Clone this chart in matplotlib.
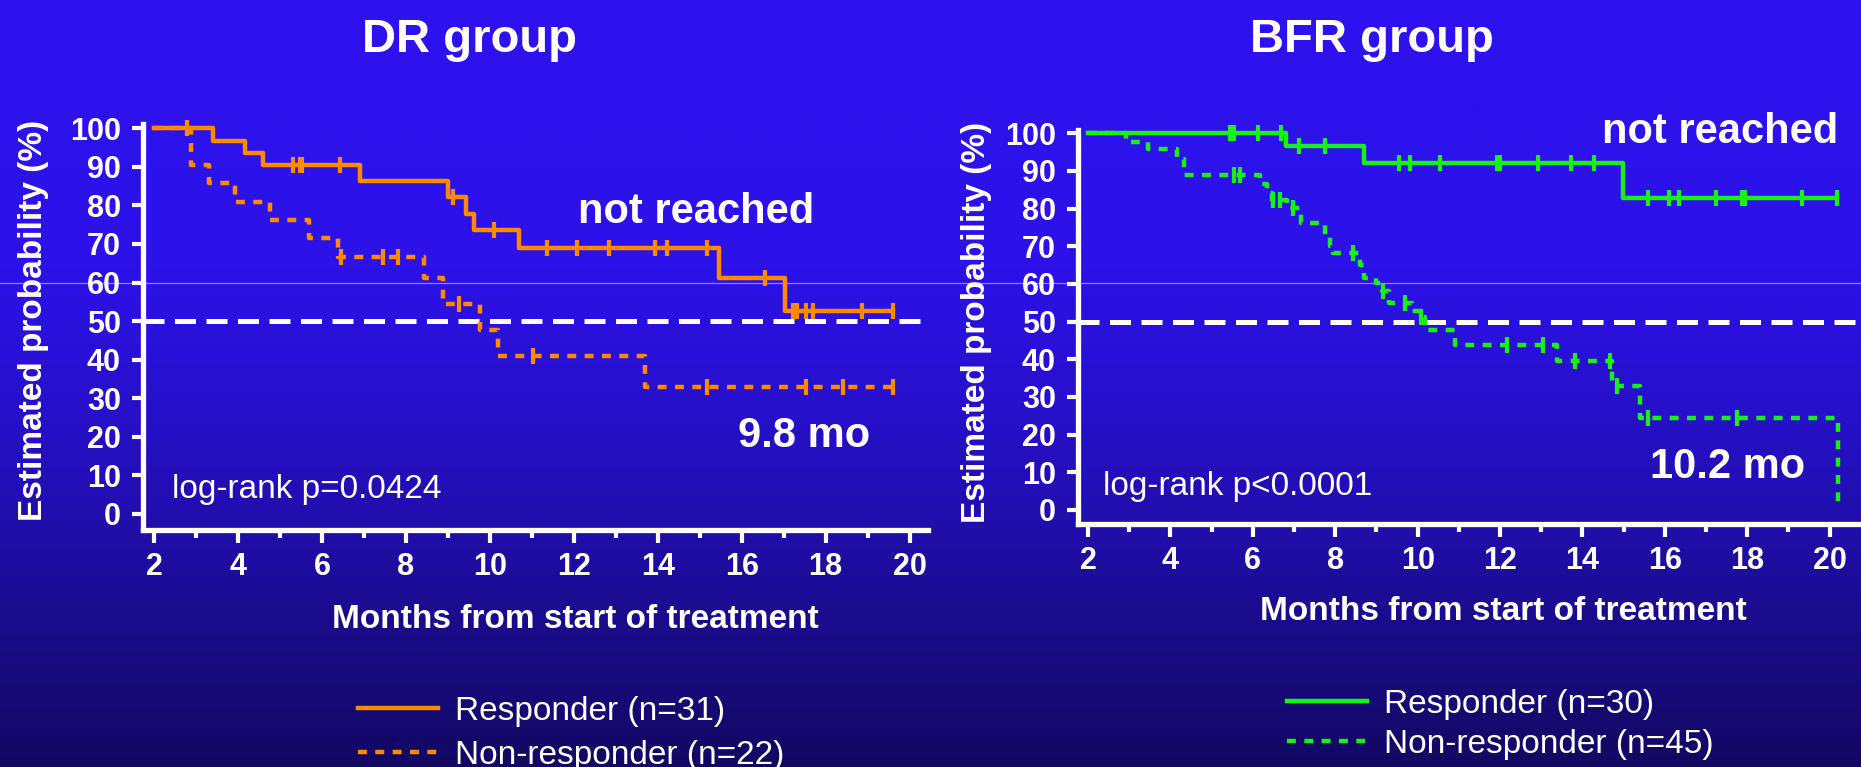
import numpy as np
import matplotlib
matplotlib.use('Agg')
import matplotlib.pyplot as plt
from matplotlib.lines import Line2D

plt.rcParams['font.family'] = ['Liberation Sans', 'DejaVu Sans']

# ---- data (months, % surviving) ----
months_ticks = list(range(2, 21, 2))
pct_ticks = list(range(0, 101, 10))

dr_resp_t = [2.0, 3.40, 4.17, 4.60, 6.91, 9.01, 9.43, 9.63, 10.70, 15.47, 17.03, 19.6]
dr_resp_s = [100, 96.8, 93.6, 90.4, 86.4, 82.1, 77.8, 73.6, 68.9, 61.1, 52.5, 52.5]
dr_resp_cens = [2.78, 5.30, 5.48, 5.52, 6.43, 9.13, 10.11, 11.36, 12.07, 12.85, 13.94,
                14.22, 15.17, 16.56, 17.23, 17.33, 17.53, 17.69, 18.86, 19.6]

dr_non_t = [2.0, 2.88, 3.32, 3.94, 4.76, 5.69, 6.39, 8.43, 8.89, 9.77, 10.2, 13.7, 19.6]
dr_non_s = [100, 90.5, 85.9, 80.8, 76.2, 71.5, 66.7, 61.1, 54.5, 47.7, 41.0, 32.8, 32.8]
dr_non_cens = [6.45, 7.46, 7.82, 9.27, 11.04, 15.17, 17.53, 18.41, 19.6]

bfr_resp_t = [2.0, 6.81, 8.70, 14.98, 20.17]
bfr_resp_s = [100, 96.5, 92.0, 82.9, 82.9]
bfr_resp_cens = [5.45, 5.55, 6.12, 6.68, 7.11, 7.75, 9.54, 9.82, 10.54, 11.92, 12.0,
                 12.91, 13.72, 14.27, 15.6, 16.09, 16.34, 17.24, 17.88, 17.95, 19.34, 20.17]

bfr_non_t = [2.0, 2.92, 3.46, 4.15, 4.33, 6.17, 6.34, 6.46, 6.82, 7.16, 7.75, 7.88, 7.95,
             8.6, 8.7, 8.99, 9.13, 9.31, 9.86, 10.07, 10.18, 10.91, 13.38, 14.71, 15.4, 20.2]
bfr_non_s = [100, 97.6, 95.8, 93.3, 88.9, 86.5, 84.1, 82.3, 80.1, 76.1, 73.0, 70.1, 68.1,
             65.0, 61.5, 60.2, 58.0, 54.9, 52.7, 51.3, 47.8, 43.8, 39.6, 32.9, 24.3, 0.4]
bfr_non_cens = [5.55, 5.69, 6.5, 6.66, 6.98, 8.42, 9.15, 9.69, 10.09, 12.16, 13.05,
                13.82, 14.67, 14.85, 15.6, 17.76]

ORANGE = '#ff8a00'
GREEN = '#18f018'
W, H = 1861, 767

def fx(px):
    return px / W

def fy(py):
    return 1 - py / H

def s_at(t, s, ct):
    idx = np.searchsorted(t, ct, side='right') - 1
    return np.array(s)[idx]

def km(ax, t, s, cens, color, dashed):
    ls = (0, (2, 1.9)) if dashed else '-'
    ax.step(t, s, where='post', color=color, lw=3.2, ls=ls, clip_on=False, zorder=3)
    ax.plot(cens, s_at(t, s, cens), ls='none', marker='|', ms=12, mew=3,
            color=color, clip_on=False, zorder=4)

def style_axes(ax, xlim, ylim):
    ax.set_facecolor('none')
    ax.set_xlim(*xlim)
    ax.set_ylim(*ylim)
    for sp in ['top', 'right']:
        ax.spines[sp].set_visible(False)
    for sp in ['left', 'bottom']:
        ax.spines[sp].set_color('white')
        ax.spines[sp].set_linewidth(3.8)
    ax.set_xticks(months_ticks)
    ax.set_xticks(range(3, 21, 2), minor=True)
    ax.set_yticks(pct_ticks)
    ax.tick_params(axis='x', which='major', length=9, width=3, color='white', pad=7,
                   labelcolor='white', labelsize=22)
    ax.tick_params(axis='x', which='minor', length=5.5, width=3, color='white')
    ax.tick_params(axis='y', length=8, width=3, color='white', pad=8,
                   labelcolor='white', labelsize=22)
    for lab in ax.get_xticklabels() + ax.get_yticklabels():
        lab.set_fontweight('bold')
    ax.axhline(50, color='white', lw=3.6, dashes=(4.2, 2.1), zorder=2)

fig = plt.figure(figsize=(W / 100, H / 100), dpi=100)

# background gradient
bg = fig.add_axes([0, 0, 1, 1], zorder=-1)
stops_y = [0.0, 0.35, 0.55, 0.7, 0.85, 1.0]
stops_c = np.array([[46, 18, 240], [44, 18, 232], [38, 16, 200],
                    [32, 14, 168], [25, 11, 130], [18, 8, 98]]) / 255.0
yy = np.linspace(0, 1, 400)
grad = np.stack([np.interp(yy, stops_y, stops_c[:, k]) for k in range(3)], axis=-1)
grad = np.repeat(grad[:, None, :], 2, axis=1)
bg.imshow(grad, aspect='auto', extent=[0, 1, 0, 1], interpolation='bilinear')
bg.axhline(fy(283), color='#8c84ff', lw=0.9)
bg.set_xlim(0, 1)
bg.set_ylim(0, 1)
bg.axis('off')

# ---- DR group ----
ax1 = fig.add_axes([fx(143), fy(530), fx(928) - fx(143), fy(124.4) - fy(530)])
style_axes(ax1, (1.738, 20.44), (-4.15, 101))
km(ax1, dr_non_t, dr_non_s, dr_non_cens, ORANGE, True)
km(ax1, dr_resp_t, dr_resp_s, dr_resp_cens, ORANGE, False)

# ---- BFR group ----
ax2 = fig.add_axes([fx(1078), fy(524), fx(1861) - fx(1078), fy(129.5) - fy(524)])
style_axes(ax2, (1.757, 20.76), (-3.72, 101))
km(ax2, bfr_non_t, bfr_non_s, bfr_non_cens, GREEN, True)
km(ax2, bfr_resp_t, bfr_resp_s, bfr_resp_cens, GREEN, False)

# titles and annotations
tkw = dict(color='white', fontweight='bold')
fig.text(fx(470), fy(40), 'DR group', ha='center', va='center', fontsize=34, **tkw)
fig.text(fx(1372), fy(40), 'BFR group', ha='center', va='center', fontsize=34, **tkw)

for xc, yl in [(34, 320), (977, 322)]:
    fig.text(fx(xc), fy(yl), 'Estimated probability (%)', rotation=90,
             ha='center', va='center', fontsize=24, **tkw)
fig.text(fx(575), fy(628), 'Months from start of treatment', ha='center',
         va='baseline', fontsize=24, **tkw)
fig.text(fx(1503), fy(620), 'Months from start of treatment', ha='center',
         va='baseline', fontsize=24, **tkw)

fig.text(fx(578), fy(223), 'not reached', ha='left', va='baseline', fontsize=30, **tkw)
fig.text(fx(1602), fy(143), 'not reached', ha='left', va='baseline', fontsize=30, **tkw)
fig.text(fx(738), fy(447), '9.8 mo', ha='left', va='baseline', fontsize=30, **tkw)
fig.text(fx(1650), fy(478), '10.2 mo', ha='left', va='baseline', fontsize=30, **tkw)

fig.text(fx(172), fy(498), 'log-rank p=0.0424', ha='left', va='baseline',
         fontsize=24, color='white')
fig.text(fx(1103), fy(495), 'log-rank p<0.0001', ha='left', va='baseline',
         fontsize=24, color='white')

# legends
def add_legend(color, labels, x0, ytop, spacing):
    handles = [Line2D([], [], color=color, lw=3.2, ls='-'),
               Line2D([], [], color=color, lw=3.2, ls=(0, (2, 1.9)))]
    leg = fig.legend(handles, labels, loc='upper left', bbox_to_anchor=(fx(x0), fy(ytop)),
                     frameon=False, fontsize=24, handlelength=2.4, handletextpad=0.5,
                     borderpad=0, borderaxespad=0, labelspacing=spacing)
    for txt in leg.get_texts():
        txt.set_color('white')

add_legend(ORANGE, ['Responder (n=31)', 'Non-responder (n=22)'], 358, 696, 0.38)
add_legend(GREEN, ['Responder (n=30)', 'Non-responder (n=45)'], 1287, 689, 0.26)

fig.savefig('out.png', dpi=100)
